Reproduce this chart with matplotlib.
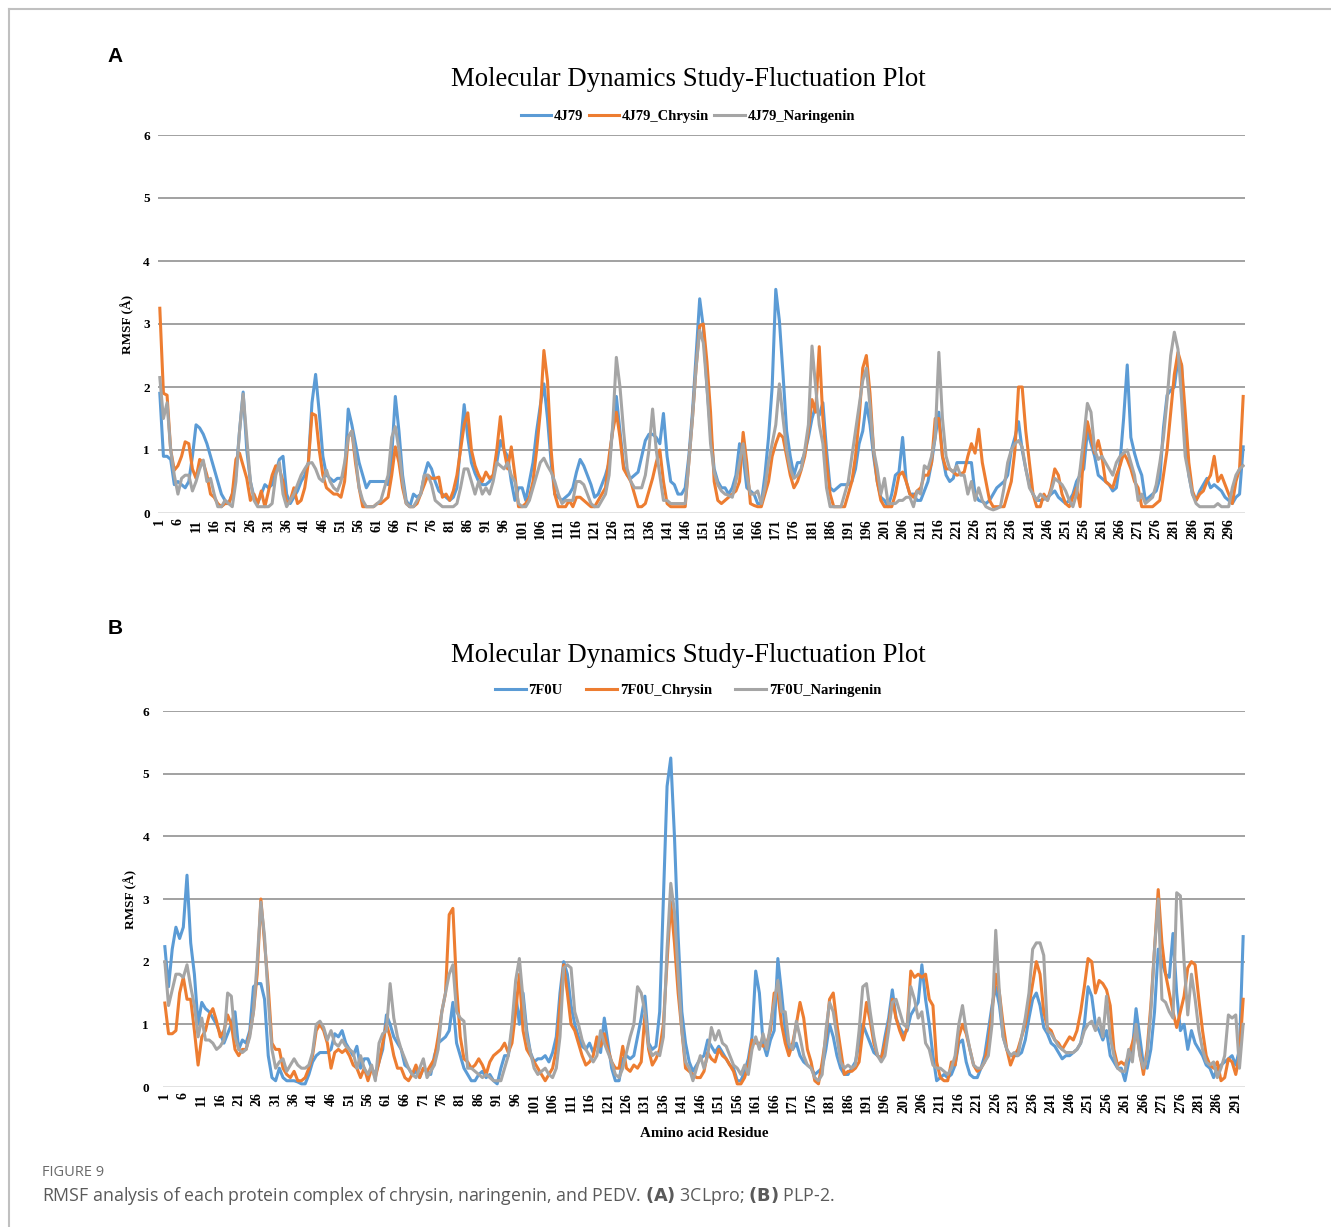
import numpy as np
import matplotlib.pyplot as plt
from matplotlib.lines import Line2D

# RMSF values (Angstrom) per residue
rmsf_4j79 = [
    1.9, 0.9, 0.9, 0.85, 0.45, 0.5, 0.45, 0.4, 0.5, 0.9,
    1.4, 1.35, 1.25, 1.1, 0.9, 0.7, 0.5, 0.3, 0.2, 0.15,
    0.3, 0.6, 1.3, 1.92, 1.0, 0.5, 0.25, 0.15, 0.3, 0.45,
    0.4, 0.45, 0.65, 0.85, 0.9, 0.3, 0.15, 0.25, 0.35, 0.5,
    0.6, 0.8, 1.75, 2.2, 1.6, 0.9, 0.6, 0.55, 0.5, 0.55,
    0.55, 0.6, 1.65, 1.4, 1.1, 0.8, 0.6, 0.4, 0.5, 0.5,
    0.5, 0.5, 0.5, 0.45, 0.9, 1.85, 1.3, 0.6, 0.2, 0.1,
    0.3, 0.25, 0.3, 0.6, 0.8, 0.7, 0.5, 0.35, 0.3, 0.25,
    0.2, 0.25, 0.4, 1.1, 1.72, 1.2, 0.8, 0.63, 0.5, 0.45,
    0.45, 0.5, 0.6, 0.8, 1.15, 1.0, 0.9, 0.5, 0.2, 0.4,
    0.4, 0.2, 0.5, 0.8, 1.3, 1.7, 2.05, 1.5, 0.8, 0.3,
    0.25, 0.2, 0.25, 0.3, 0.4, 0.65, 0.85, 0.75, 0.6, 0.45,
    0.25, 0.3, 0.45, 0.6, 0.8, 1.35, 1.85, 1.3, 0.75, 0.6,
    0.55, 0.6, 0.65, 0.9, 1.15, 1.25, 1.25, 1.2, 1.1, 1.58,
    0.9, 0.5, 0.45, 0.3, 0.3, 0.4, 0.9, 1.6, 2.5, 3.4,
    2.95, 2.0, 1.3, 0.7, 0.5, 0.4, 0.4, 0.3, 0.4, 0.6,
    1.1, 0.9, 0.4, 0.35, 0.3, 0.15, 0.15, 0.6, 1.2, 2.0,
    3.55, 3.05, 2.2, 1.3, 0.9, 0.6, 0.8, 0.8, 0.95, 1.2,
    1.5, 1.7, 1.55, 1.75, 1.0, 0.4, 0.35, 0.4, 0.45, 0.45,
    0.45, 0.5, 0.7, 1.1, 1.3, 1.75, 1.4, 0.9, 0.5, 0.25,
    0.2, 0.1, 0.3, 0.6, 0.65, 1.2, 0.5, 0.3, 0.3, 0.2,
    0.2, 0.35, 0.5, 0.8, 1.2, 1.6, 0.9, 0.6, 0.5, 0.55,
    0.8, 0.8, 0.8, 0.8, 0.8, 0.3, 0.2, 0.18, 0.15, 0.2,
    0.3, 0.4, 0.45, 0.5, 0.6, 1.0, 1.2, 1.45, 1.0, 0.7,
    0.45, 0.3, 0.2, 0.2, 0.22, 0.25, 0.3, 0.35, 0.25, 0.2,
    0.15, 0.2, 0.3, 0.5, 0.6, 0.7, 1.3, 1.1, 0.9, 0.6,
    0.55, 0.5, 0.45, 0.35, 0.4, 0.8, 1.5, 2.35, 1.2, 0.95,
    0.75, 0.6, 0.2, 0.25, 0.3, 0.35, 0.55, 1.35, 1.87, 1.95,
    2.0, 2.45, 2.35, 1.2, 0.6, 0.3, 0.2, 0.35, 0.45, 0.55,
    0.4, 0.45, 0.4, 0.35, 0.25, 0.2, 0.15, 0.25, 0.3, 1.05,
]
rmsf_4j79_chrysin = [
    3.25, 1.9, 1.87, 1.0, 0.68, 0.75, 0.9, 1.13, 1.1, 0.7,
    0.55, 0.85, 0.8, 0.6, 0.3, 0.25, 0.15, 0.1, 0.15, 0.15,
    0.3, 0.85, 0.95, 0.75, 0.55, 0.2, 0.3, 0.15, 0.35, 0.1,
    0.35, 0.6, 0.75, 0.7, 0.5, 0.15, 0.2, 0.4, 0.15, 0.2,
    0.4, 0.8, 1.58, 1.55, 1.0, 0.6, 0.4, 0.35, 0.3, 0.3,
    0.25, 0.5, 1.2, 1.3, 0.8, 0.4, 0.1, 0.1, 0.1, 0.1,
    0.15, 0.15, 0.2, 0.25, 0.6, 1.05, 0.8, 0.4, 0.15, 0.1,
    0.1, 0.15, 0.3, 0.45, 0.6, 0.55, 0.55, 0.57, 0.25, 0.3,
    0.2, 0.35, 0.6, 1.0, 1.4, 1.59, 1.0, 0.75, 0.6, 0.5,
    0.65, 0.55, 0.6, 1.0, 1.53, 1.0, 0.7, 1.05, 0.6, 0.1,
    0.1, 0.15, 0.25, 0.5, 1.0, 1.6, 2.58, 2.1, 1.0, 0.3,
    0.1, 0.1, 0.1, 0.2, 0.1, 0.25, 0.25, 0.2, 0.15, 0.1,
    0.1, 0.2, 0.3, 0.4, 0.9, 1.3, 1.6, 1.2, 0.7, 0.6,
    0.5, 0.3, 0.1, 0.1, 0.15, 0.35, 0.55, 0.8, 1.0, 0.5,
    0.15, 0.1, 0.1, 0.1, 0.1, 0.1, 0.8, 1.5, 2.3, 2.97,
    3.0, 2.4, 1.6, 0.5, 0.2, 0.15, 0.2, 0.25, 0.3, 0.35,
    0.5, 1.28, 0.8, 0.15, 0.12, 0.1, 0.1, 0.3, 0.5, 0.9,
    1.1, 1.26, 1.2, 0.9, 0.6, 0.4, 0.5, 0.68, 0.9, 1.3,
    1.8, 1.6, 2.64, 1.5, 0.8, 0.3, 0.1, 0.1, 0.1, 0.1,
    0.3, 0.5, 0.9, 1.5, 2.3, 2.5, 1.9, 1.0, 0.5, 0.2,
    0.1, 0.1, 0.1, 0.3, 0.6, 0.65, 0.5, 0.3, 0.25, 0.35,
    0.4, 0.6, 0.6, 0.8, 1.5, 1.5, 0.9, 0.7, 0.7, 0.65,
    0.6, 0.62, 0.65, 0.9, 1.1, 0.95, 1.33, 0.8, 0.5, 0.2,
    0.1, 0.1, 0.1, 0.1, 0.3, 0.5, 1.0, 2.0, 2.0, 1.3,
    0.8, 0.3, 0.1, 0.1, 0.3, 0.2, 0.4, 0.7, 0.6, 0.3,
    0.15, 0.1, 0.25, 0.4, 0.1, 1.0, 1.45, 1.2, 0.95, 1.15,
    0.9, 0.5, 0.45, 0.4, 0.6, 0.75, 0.95, 0.85, 0.7, 0.5,
    0.4, 0.1, 0.1, 0.1, 0.1, 0.15, 0.2, 0.6, 1.0, 1.6,
    2.2, 2.55, 2.35, 1.6, 0.8, 0.35, 0.2, 0.3, 0.35, 0.5,
    0.6, 0.9, 0.5, 0.6, 0.45, 0.3, 0.15, 0.5, 0.7, 1.85,
]
rmsf_4j79_naringenin = [
    2.15, 1.5, 1.75, 1.0, 0.6, 0.3, 0.55, 0.6, 0.6, 0.35,
    0.5, 0.7, 0.84, 0.5, 0.55, 0.3, 0.1, 0.1, 0.2, 0.15,
    0.1, 0.5, 1.3, 1.89, 1.2, 0.5, 0.2, 0.1, 0.1, 0.1,
    0.1, 0.15, 0.6, 0.8, 0.3, 0.1, 0.2, 0.3, 0.45, 0.6,
    0.7, 0.79, 0.8, 0.7, 0.55, 0.5, 0.68, 0.5, 0.4, 0.35,
    0.5, 0.8, 1.2, 1.3, 0.9, 0.4, 0.2, 0.1, 0.1, 0.1,
    0.15, 0.2, 0.4, 0.6, 1.2, 1.37, 1.0, 0.5, 0.15, 0.1,
    0.1, 0.2, 0.3, 0.6, 0.6, 0.45, 0.2, 0.15, 0.1, 0.1,
    0.1, 0.1, 0.15, 0.4, 0.7, 0.7, 0.5, 0.3, 0.5, 0.3,
    0.4, 0.3, 0.5, 0.8, 0.75, 0.7, 0.8, 0.6, 0.5, 0.15,
    0.1, 0.1, 0.2, 0.4, 0.6, 0.8, 0.87, 0.75, 0.65, 0.5,
    0.3, 0.15, 0.2, 0.2, 0.2, 0.5, 0.5, 0.45, 0.3, 0.15,
    0.1, 0.1, 0.2, 0.3, 0.6, 1.4, 2.47, 2.0, 1.3, 0.7,
    0.5, 0.4, 0.4, 0.4, 0.6, 1.0, 1.65, 1.0, 0.6, 0.2,
    0.2, 0.15, 0.15, 0.15, 0.15, 0.15, 0.8, 1.5, 2.3, 2.9,
    2.7, 2.0, 1.1, 0.65, 0.45, 0.35, 0.3, 0.28, 0.25, 0.5,
    0.8, 1.1, 0.6, 0.3, 0.3, 0.35, 0.15, 0.4, 0.8, 1.1,
    1.4, 2.05, 1.5, 1.0, 0.7, 0.55, 0.6, 0.7, 1.0, 1.4,
    2.65, 2.0, 1.4, 1.1, 0.4, 0.1, 0.1, 0.1, 0.1, 0.3,
    0.5, 0.9, 1.3, 1.7, 2.1, 2.3, 1.7, 1.0, 0.7, 0.3,
    0.55, 0.15, 0.15, 0.15, 0.2, 0.2, 0.25, 0.25, 0.1, 0.35,
    0.3, 0.75, 0.7, 0.9, 1.2, 2.55, 1.5, 0.9, 0.7, 0.65,
    0.75, 0.6, 0.6, 0.3, 0.5, 0.2, 0.4, 0.2, 0.1, 0.07,
    0.05, 0.07, 0.1, 0.4, 0.8, 1.0, 1.1, 1.15, 1.05, 0.7,
    0.4, 0.3, 0.2, 0.3, 0.25, 0.2, 0.35, 0.55, 0.5, 0.45,
    0.35, 0.2, 0.1, 0.3, 0.7, 1.2, 1.74, 1.6, 1.0, 0.85,
    0.9, 0.8, 0.7, 0.6, 0.8, 0.9, 0.95, 1.0, 0.8, 0.6,
    0.2, 0.3, 0.15, 0.2, 0.25, 0.45, 0.8, 1.2, 1.8, 2.5,
    2.87, 2.6, 1.8, 0.9, 0.6, 0.3, 0.15, 0.1, 0.1, 0.1,
    0.1, 0.1, 0.15, 0.1, 0.1, 0.1, 0.4, 0.6, 0.7, 0.75,
]

rmsf_7f0u = [
    2.24, 1.6, 2.2, 2.55, 2.37, 2.55, 3.38, 2.3, 1.8, 1.0,
    1.35, 1.25, 1.2, 1.1, 1.0, 0.85, 0.7, 0.85, 1.0, 1.2,
    0.6, 0.75, 0.7, 0.9, 1.6, 1.65, 1.65, 1.4, 0.5, 0.15,
    0.1, 0.3, 0.15, 0.1, 0.1, 0.1, 0.08, 0.05, 0.05, 0.2,
    0.4, 0.5, 0.55, 0.55, 0.55, 0.6, 0.85, 0.8, 0.9, 0.7,
    0.6, 0.5, 0.65, 0.3, 0.45, 0.45, 0.3, 0.2, 0.4, 0.6,
    1.15, 1.0, 0.8, 0.7, 0.6, 0.35, 0.3, 0.2, 0.25, 0.15,
    0.3, 0.25, 0.2, 0.5, 0.7, 0.75, 0.8, 0.9, 1.35, 0.7,
    0.5, 0.3, 0.2, 0.1, 0.1, 0.2, 0.25, 0.15, 0.2, 0.1,
    0.05, 0.3, 0.5, 0.5, 0.9, 1.5, 1.0, 1.5, 0.9, 0.55,
    0.4, 0.45, 0.45, 0.5, 0.4, 0.55, 0.8, 1.5, 2.0, 1.8,
    1.3, 1.0, 0.8, 0.65, 0.6, 0.7, 0.55, 0.7, 0.55, 1.1,
    0.7, 0.3, 0.1, 0.1, 0.45, 0.5, 0.45, 0.5, 0.8, 1.1,
    1.45, 0.7, 0.6, 0.65, 1.2, 3.0, 4.8, 5.25, 4.0, 2.4,
    1.2, 0.7, 0.4, 0.25, 0.35, 0.45, 0.5, 0.75, 0.65, 0.55,
    0.65, 0.55, 0.45, 0.35, 0.3, 0.1, 0.1, 0.25, 0.45, 0.8,
    1.85, 1.5, 0.7, 0.5, 0.75, 0.9, 2.05, 1.5, 0.9, 0.6,
    0.6, 0.7, 0.5, 0.4, 0.35, 0.3, 0.2, 0.25, 0.3, 0.6,
    1.0, 0.8, 0.5, 0.3, 0.2, 0.2, 0.3, 0.4, 0.7, 1.0,
    0.85, 0.7, 0.55, 0.5, 0.45, 0.8, 1.1, 1.55, 1.1, 0.95,
    0.85, 0.9, 1.15, 1.25, 1.35, 1.95, 1.4, 1.0, 0.5, 0.1,
    0.15, 0.2, 0.15, 0.2, 0.35, 0.7, 0.75, 0.4, 0.2, 0.15,
    0.15, 0.3, 0.5, 0.9, 1.3, 1.6, 1.3, 0.8, 0.6, 0.5,
    0.5, 0.5, 0.55, 0.75, 1.1, 1.4, 1.5, 1.3, 0.95, 0.85,
    0.7, 0.65, 0.55, 0.45, 0.5, 0.5, 0.55, 0.6, 0.7, 1.0,
    1.6, 1.45, 1.0, 0.9, 0.75, 0.9, 0.5, 0.4, 0.3, 0.3,
    0.1, 0.4, 0.6, 1.25, 0.8, 0.35, 0.3, 0.6, 1.2, 2.2,
    2.0, 1.8, 1.75, 2.45, 1.5, 0.9, 1.0, 0.6, 0.9, 0.7,
    0.6, 0.5, 0.35, 0.3, 0.15, 0.3, 0.35, 0.4, 0.45, 0.5,
    0.35, 0.6, 2.4,
]
rmsf_7f0u_chrysin = [
    1.34, 0.85, 0.85, 0.9, 1.5, 1.75, 1.4, 1.4, 0.9, 0.35,
    0.8, 0.9, 1.15, 1.25, 1.05, 0.8, 0.9, 1.15, 1.0, 0.6,
    0.5, 0.6, 0.6, 0.85, 1.2, 1.8, 3.0, 2.3, 1.6, 0.7,
    0.6, 0.6, 0.3, 0.2, 0.15, 0.25, 0.1, 0.1, 0.15, 0.3,
    0.5, 0.9, 1.0, 0.9, 0.7, 0.3, 0.55, 0.6, 0.55, 0.6,
    0.5, 0.35, 0.3, 0.15, 0.3, 0.1, 0.3, 0.15, 0.4, 0.7,
    1.0, 0.8, 0.5, 0.3, 0.3, 0.15, 0.1, 0.2, 0.35, 0.15,
    0.3, 0.25, 0.35, 0.45, 0.8, 1.2, 1.5, 2.75, 2.85, 1.6,
    0.8, 0.45, 0.4, 0.3, 0.35, 0.45, 0.35, 0.2, 0.4, 0.5,
    0.55, 0.6, 0.7, 0.55, 0.7, 1.2, 1.8, 0.9, 0.6, 0.5,
    0.4, 0.3, 0.2, 0.1, 0.2, 0.3, 0.6, 1.3, 1.95, 1.5,
    1.0, 0.9, 0.7, 0.5, 0.35, 0.4, 0.5, 0.8, 0.65, 0.85,
    0.6, 0.4, 0.3, 0.3, 0.65, 0.3, 0.25, 0.35, 0.3, 0.4,
    1.15, 0.6, 0.35, 0.45, 0.6, 1.0, 2.0, 2.95, 2.3, 1.5,
    0.9, 0.3, 0.25, 0.2, 0.15, 0.15, 0.25, 0.55, 0.45, 0.4,
    0.6, 0.5, 0.45, 0.35, 0.25, 0.05, 0.05, 0.15, 0.35, 0.75,
    0.7, 0.7, 0.65, 0.7, 0.9, 1.5, 1.5, 1.0, 0.7, 0.5,
    0.7, 1.0, 1.35, 1.1, 0.6, 0.4, 0.1, 0.05, 0.4, 0.8,
    1.4, 1.5, 1.0, 0.6, 0.2, 0.25, 0.25, 0.3, 0.4, 0.9,
    1.35, 1.05, 0.7, 0.5, 0.45, 0.7, 1.0, 1.4, 1.1, 0.9,
    0.75, 0.95, 1.85, 1.75, 1.8, 1.75, 1.8, 1.4, 1.3, 0.4,
    0.15, 0.1, 0.1, 0.4, 0.35, 0.8, 1.0, 0.85, 0.6, 0.35,
    0.25, 0.3, 0.4, 0.7, 1.2, 1.8, 1.5, 1.0, 0.6, 0.35,
    0.5, 0.6, 0.8, 1.0, 1.3, 1.65, 2.0, 1.8, 1.2, 0.95,
    0.9, 0.75, 0.7, 0.6, 0.7, 0.8, 0.75, 0.9, 1.2, 1.6,
    2.05, 2.0, 1.5, 1.7, 1.65, 1.55, 1.3, 0.6, 0.35, 0.4,
    0.35, 0.5, 0.7, 0.9, 0.55, 0.2, 0.6, 1.3, 2.2, 3.15,
    2.3, 1.8, 1.5, 1.2, 0.95, 1.2, 1.45, 1.9, 2.0, 1.95,
    1.4, 0.9, 0.5, 0.35, 0.3, 0.4, 0.1, 0.15, 0.45, 0.4,
    0.2, 0.5, 1.4,
]
rmsf_7f0u_naringenin = [
    2.0, 1.3, 1.55, 1.8, 1.8, 1.75, 1.95, 1.6, 1.3, 0.8,
    1.1, 0.75, 0.75, 0.7, 0.6, 0.65, 0.75, 1.5, 1.45, 0.8,
    0.6, 0.55, 0.6, 0.8, 1.2, 2.0, 2.95, 2.4, 1.4, 0.6,
    0.3, 0.4, 0.45, 0.25, 0.35, 0.45, 0.35, 0.3, 0.3, 0.35,
    0.55, 1.0, 1.05, 0.95, 0.75, 0.9, 0.7, 0.65, 0.75, 0.65,
    0.6, 0.55, 0.3, 0.5, 0.3, 0.2, 0.35, 0.1, 0.7, 0.85,
    0.9, 1.65, 1.1, 0.8, 0.6, 0.45, 0.3, 0.2, 0.15, 0.3,
    0.45, 0.15, 0.25, 0.35, 0.6, 1.2, 1.5, 1.8, 1.95, 1.2,
    1.1, 1.05, 0.3, 0.3, 0.25, 0.2, 0.15, 0.2, 0.15, 0.1,
    0.1, 0.1, 0.3, 0.5, 1.0, 1.7, 2.05, 1.4, 0.8, 0.55,
    0.3, 0.2, 0.25, 0.3, 0.2, 0.15, 0.3, 0.8, 1.9, 1.95,
    1.9, 1.2, 1.0, 0.75, 0.6, 0.5, 0.4, 0.5, 0.9, 0.7,
    0.55, 0.4, 0.2, 0.15, 0.3, 0.55, 0.8, 1.0, 1.6, 1.5,
    1.2, 0.65, 0.5, 0.55, 0.5, 0.8, 2.2, 3.25, 2.8, 1.8,
    0.9, 0.4, 0.3, 0.1, 0.3, 0.5, 0.3, 0.5, 0.95, 0.75,
    0.9, 0.7, 0.65, 0.5, 0.35, 0.3, 0.2, 0.35, 0.2, 0.6,
    0.8, 0.6, 0.85, 0.6, 1.0, 1.35, 1.7, 1.2, 1.2, 0.7,
    0.6, 1.05, 0.8, 0.5, 0.35, 0.3, 0.15, 0.1, 0.2, 0.9,
    1.35, 1.2, 0.8, 0.4, 0.3, 0.35, 0.3, 0.35, 0.9, 1.6,
    1.65, 1.2, 0.8, 0.5, 0.4, 0.5, 0.9, 1.35, 1.4, 1.2,
    1.0, 0.95, 1.6, 1.4, 1.1, 1.2, 0.7, 0.6, 0.35, 0.3,
    0.3, 0.25, 0.2, 0.3, 0.5, 1.0, 1.3, 0.9, 0.6, 0.35,
    0.3, 0.3, 0.4, 0.5, 1.0, 2.5, 1.5, 0.8, 0.6, 0.5,
    0.55, 0.5, 0.8, 1.1, 1.5, 2.2, 2.3, 2.3, 2.1, 0.9,
    0.85, 0.75, 0.65, 0.6, 0.55, 0.55, 0.55, 0.6, 0.7, 0.9,
    1.0, 1.05, 0.9, 1.1, 0.8, 1.45, 0.8, 0.5, 0.3, 0.25,
    0.25, 0.6, 0.4, 1.0, 0.5, 0.3, 0.5, 1.2, 2.2, 3.0,
    1.4, 1.35, 1.2, 1.1, 3.1, 3.05, 2.0, 1.15, 1.8, 1.4,
    0.9, 0.6, 0.4, 0.35, 0.4, 0.15, 0.3, 0.5, 1.15, 1.1,
    1.15, 0.3, 1.0,
]

labels_a = ["4J79", "4J79_Chrysin", "4J79_Naringenin"]
labels_b = ["7F0U", "7F0U_Chrysin", "7F0U_Naringenin"]
colors = ["#5B9BD5", "#ED7D31", "#A5A5A5"]

W, H = 1331, 1227
serif = "Liberation Serif"

fig = plt.figure(figsize=(W / 100, H / 100), dpi=100)
fig.patch.set_facecolor("white")


def px_box(x0, y0, x1, y1):
    # pixel box (top-left origin) -> figure fraction rect
    return [x0 / W, 1 - y1 / H, (x1 - x0) / W, (y1 - y0) / H]


def draw_panel(rect, series, labels, title_y, legend_y, ypad, ylabelpad,
               colspace, xlabel=None):
    ax = fig.add_axes(rect)
    n = len(series[0])
    res = np.arange(1, n + 1)
    for vals, lab, c in zip(series, labels, colors):
        ax.plot(res, vals, color=c, lw=2.2, label=lab, solid_joinstyle="round")
    ax.set_xlim(0.5, n + 0.5)
    ax.set_ylim(0, 6)
    ax.set_yticks(range(0, 7))
    ax.set_yticklabels([str(v) for v in range(0, 7)], fontfamily=serif,
                       fontweight="bold", fontsize=9.5)
    ticks = list(range(1, n + 1, 5))
    ax.set_xticks(ticks)
    ax.set_xticklabels([str(t) for t in ticks], rotation=90, fontfamily=serif,
                       fontweight="bold", fontsize=10)
    ax.tick_params(length=0, pad=4)
    ax.tick_params(axis="y", pad=ypad)
    for y in range(1, 7):
        ax.axhline(y, color="#9a9a9a", lw=1.3, zorder=0)
    ax.axhline(0, color="#d9d9d9", lw=1.8, zorder=0)
    for s in ax.spines.values():
        s.set_visible(False)
    ax.set_ylabel("RMSF (Å)", fontfamily=serif, fontweight="bold", fontsize=9.5,
                  labelpad=ylabelpad)
    if xlabel:
        ax.set_xlabel(xlabel, fontfamily=serif, fontweight="bold", fontsize=10.8,
                      labelpad=10)
    fig.text(688 / W, 1 - title_y / H, "Molecular Dynamics Study-Fluctuation Plot",
             fontfamily=serif, fontsize=19.3, ha="center", va="center")
    fig.legend(handles=ax.get_lines(), labels=labels, loc="center",
               bbox_to_anchor=(688 / W, 1 - legend_y / H), ncol=3, frameon=False,
               prop={"family": serif, "weight": "bold", "size": 10.5},
               handlelength=2.1, handletextpad=0.2, columnspacing=colspace)
    return ax


ax_a = draw_panel(px_box(158, 135, 1245, 513),
                  [rmsf_4j79, rmsf_4j79_chrysin, rmsf_4j79_naringenin],
                  labels_a, 79, 116, ypad=6, ylabelpad=6, colspace=0.35)
ax_b = draw_panel(px_box(163, 711, 1245, 1087),
                  [rmsf_7f0u, rmsf_7f0u_chrysin, rmsf_7f0u_naringenin],
                  labels_b, 655, 690, ypad=10, ylabelpad=4, colspace=1.6,
                  xlabel="Amino acid Residue")

# panel letters
fig.text(115 / W, 1 - 57 / H, "A", fontfamily="Liberation Sans", fontweight="bold",
         fontsize=15, ha="center", va="center")
fig.text(115 / W, 1 - 628 / H, "B", fontfamily="Liberation Sans", fontweight="bold",
         fontsize=15, ha="center", va="center")

# caption
fig.text(42 / W, 1 - 1172 / H, "FIGURE 9", fontfamily="Open Sans", fontsize=10.5,
         color="#6a6a6a", ha="left", va="center")
fig.text(42 / W, 1 - 1196 / H,
         r"RMSF analysis of each protein complex of chrysin, naringenin, and PEDV. "
         r"$\bf{(A)}$ 3CLpro; $\bf{(B)}$ PLP-2.",
         fontfamily="Open Sans", fontsize=12.8, color="#5a5a5a", ha="left", va="center")

# page frame
fig.add_artist(Line2D([9 / W, 9 / W], [0, 1 - 9 / H], color="#c0c0c0", lw=1.5))
fig.add_artist(Line2D([9 / W, 1], [1 - 9 / H, 1 - 9 / H], color="#c0c0c0", lw=1.5))

fig.savefig("out.png", dpi=100)
